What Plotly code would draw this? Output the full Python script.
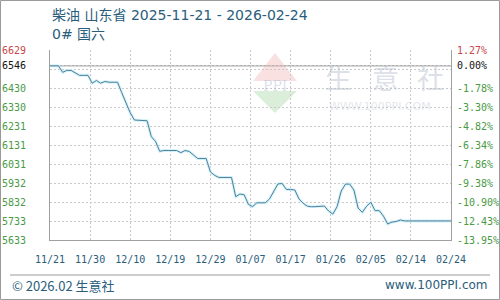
import plotly.graph_objects as go

# ---------------- data ----------------
dates = [
    "2025-11-21", "2025-11-22", "2025-11-23", "2025-11-24", "2025-11-25", "2025-11-26",
    "2025-11-27", "2025-11-28", "2025-11-29", "2025-11-30", "2025-12-01", "2025-12-02",
    "2025-12-03", "2025-12-04", "2025-12-05", "2025-12-06", "2025-12-07", "2025-12-08",
    "2025-12-09", "2025-12-10", "2025-12-11", "2025-12-12", "2025-12-13", "2025-12-14",
    "2025-12-15", "2025-12-16", "2025-12-17", "2025-12-18", "2025-12-19", "2025-12-20",
    "2025-12-21", "2025-12-22", "2025-12-23", "2025-12-24", "2025-12-25", "2025-12-26",
    "2025-12-27", "2025-12-28", "2025-12-29", "2025-12-30", "2025-12-31", "2026-01-01",
    "2026-01-02", "2026-01-03", "2026-01-04", "2026-01-05", "2026-01-06", "2026-01-07",
    "2026-01-08", "2026-01-09", "2026-01-10", "2026-01-11", "2026-01-12", "2026-01-13",
    "2026-01-14", "2026-01-15", "2026-01-16", "2026-01-17", "2026-01-18", "2026-01-19",
    "2026-01-20", "2026-01-21", "2026-01-22", "2026-01-23", "2026-01-24", "2026-01-25",
    "2026-01-26", "2026-01-27", "2026-01-28", "2026-01-29", "2026-01-30", "2026-01-31",
    "2026-02-01", "2026-02-02", "2026-02-03", "2026-02-04", "2026-02-05", "2026-02-06",
    "2026-02-07", "2026-02-08", "2026-02-09", "2026-02-10", "2026-02-11", "2026-02-12",
    "2026-02-13", "2026-02-14", "2026-02-15", "2026-02-16", "2026-02-17", "2026-02-18",
    "2026-02-19", "2026-02-20", "2026-02-21", "2026-02-22", "2026-02-23", "2026-02-24",
]
prices = [
    6546, 6546, 6546, 6512, 6522, 6522,
    6510, 6496, 6496, 6496, 6455, 6469,
    6455, 6464, 6460, 6460, 6460, 6405,
    6354, 6300, 6262, 6260, 6260, 6258,
    6175, 6150, 6098, 6102, 6102, 6102,
    6102, 6091, 6102, 6097, 6078, 6060,
    6060, 6060, 5990, 5972, 5961, 5961,
    5961, 5961, 5860, 5874, 5870, 5820,
    5808, 5828, 5828, 5828, 5848, 5885,
    5927, 5929, 5898, 5898, 5895, 5848,
    5825, 5810, 5807, 5808, 5810, 5811,
    5785, 5769, 5807, 5890, 5926, 5926,
    5895, 5800, 5778, 5810, 5831, 5787,
    5787, 5758, 5717, 5727, 5730, 5738,
    5733, 5733, 5733, 5733, 5733, 5733,
    5733, 5733, 5733, 5733, 5733, 5733,
]

base_price = 6546
y_min, y_max = 5633, 6629

y_tickvals = [5633, 5732.6, 5832.2, 5931.8, 6031.4, 6131, 6230.6, 6330.2, 6429.8, 6529.4, 6546, 6629]
y_left_labels = ["5633", "5733", "5832", "5932", "6031", "6131", "6231", "6330", "6430", "", "6546", "6629"]
y_right_labels = ["-13.95%", "-12.43%", "-10.90%", "-9.38%", "-7.86%", "-6.34%", "-4.82%",
                  "-3.30%", "-1.78%", "", "0.00%", "1.27%"]

x_tickvals = ["2025-11-21", "2025-11-30 12:00", "2025-12-10", "2025-12-19 12:00", "2025-12-29",
              "2026-01-07 12:00", "2026-01-17", "2026-01-26 12:00", "2026-02-05",
              "2026-02-14 12:00", "2026-02-24"]
x_ticklabels = ["11/21", "11/30", "12/10", "12/19", "12/29", "01/07", "01/17", "01/26",
                "02/05", "02/14", "02/24"]

title_line1 = "柴油 山东省 2025-11-21 - 2026-02-24"
title_line2 = "0# 国六"
footer_left = "© 2026.02 生意社"
footer_right = "www.100PPI.com"

# ---------------- styling ----------------
RED = "#c8474a"
GREEN = "#4a9a46"
BLACK = "#111111"
TEAL = "#2a5d7c"
GRID = "#c9c9c9"
AXIS = "#a0a0a0"


def label_color(v):
    if v > base_price:
        return RED
    if v == base_price:
        return BLACK
    return GREEN


left_ticktext = [f'<span style="color:{label_color(v)}">{t}</span>' for v, t in zip(y_tickvals, y_left_labels)]
right_ticktext = [f'<span style="color:{label_color(v)}">{t}</span>' for v, t in zip(y_tickvals, y_right_labels)]

W, H = 500, 300
L, R, T, B = 50, 49, 50, 60
PW, PH = W - L - R, H - T - B


def px(x):
    return (x - L) / PW


def py(y):
    return (H - B - y) / PH


fig = go.Figure()

# halo under the line
fig.add_trace(go.Scatter(x=dates, y=prices, mode="lines",
                         line=dict(color="rgba(195,236,250,0.7)", width=3),
                         hoverinfo="skip", showlegend=False))
fig.add_trace(go.Scatter(x=dates, y=prices, mode="lines",
                         line=dict(color="#4d8099", width=1),
                         hoverinfo="skip", showlegend=False))
# invisible trace for right axis
fig.add_trace(go.Scatter(x=dates, y=prices, mode="lines", yaxis="y2",
                         line=dict(color="rgba(0,0,0,0)", width=0),
                         hoverinfo="skip", showlegend=False))

tick_font = dict(family="DejaVu Sans Mono", size=10)

fig.update_layout(
    width=W, height=H,
    margin=dict(l=L, r=R, t=T, b=B, autoexpand=False),
    paper_bgcolor="white", plot_bgcolor="white",
    showlegend=False,
    xaxis=dict(
        type="date",
        range=[dates[0], dates[-1]],
        tickvals=x_tickvals, ticktext=x_ticklabels,
        tickfont=dict(family="DejaVu Sans Mono", size=10, color=TEAL),
        showgrid=True, gridcolor=GRID, griddash="2px,2px", gridwidth=1,
        showline=True, linecolor=AXIS, linewidth=1,
        ticks="", ticklabelstandoff=10, automargin=False,
        zeroline=False, fixedrange=True,
    ),
    yaxis=dict(
        range=[y_min, y_max],
        tickvals=y_tickvals, ticktext=left_ticktext,
        tickfont=tick_font,
        showgrid=True, gridcolor=GRID, griddash="2px,2px", gridwidth=1,
        showline=True, linecolor=AXIS, linewidth=1,
        ticks="", ticklabelstandoff=21, automargin=False,
        zeroline=False, fixedrange=True,
    ),
    yaxis2=dict(
        range=[y_min, y_max], overlaying="y", side="right",
        tickvals=y_tickvals, ticktext=right_ticktext,
        tickfont=tick_font,
        showgrid=False,
        showline=True, linecolor=AXIS, linewidth=1,
        ticks="", ticklabelstandoff=3, automargin=False,
        zeroline=False, fixedrange=True,
    ),
)

shapes = []
# baseline at base price
shapes.append(dict(type="line", xref="paper", yref="y", x0=0, x1=1, y0=base_price, y1=base_price,
                   line=dict(color="#8a8a8a", width=1), layer="below"))
# outer frame
shapes.append(dict(type="rect", xref="paper", yref="paper", x0=px(0.5), x1=px(W - 0.5),
                   y0=py(H - 0.5), y1=py(0.5), line=dict(color="#9a9a9a", width=1)))
# footer separator
shapes.append(dict(type="line", xref="paper", yref="paper", x0=px(10), x1=px(490),
                   y0=py(275), y1=py(275), line=dict(color="#9a9a9a", width=1)))
# watermark logo (diamond)
shapes.append(dict(type="path", xref="paper", yref="paper", layer="below",
                   path=f"M {px(253)},{py(81)} L {px(275)},{py(53)} L {px(297)},{py(81)} Z",
                   fillcolor="rgba(236,170,165,0.35)", line=dict(width=0)))
shapes.append(dict(type="path", xref="paper", yref="paper", layer="below",
                   path=f"M {px(253)},{py(91)} L {px(275)},{py(113)} L {px(297)},{py(91)} Z",
                   fillcolor="rgba(150,205,150,0.35)", line=dict(width=0)))
fig.update_layout(shapes=shapes)

title_font = dict(family="DejaVu Sans, Noto Sans CJK SC", size=14, color=TEAL)
wm_font = dict(family="Noto Sans CJK SC", size=27, color="rgba(185,193,208,0.5)")

annotations = [
    dict(text=title_line1, x=px(50), y=py(15), xref="paper", yref="paper",
         xanchor="left", yanchor="middle", showarrow=False, font=title_font),
    dict(text=title_line2, x=px(50), y=py(34), xref="paper", yref="paper",
         xanchor="left", yanchor="middle", showarrow=False, font=title_font),
    dict(text=footer_left, x=px(10), y=py(285), xref="paper", yref="paper",
         xanchor="left", yanchor="middle", showarrow=False,
         font=dict(family="Noto Sans CJK SC", size=13, color=TEAL)),
    dict(text=footer_right, x=px(490), y=py(285), xref="paper", yref="paper",
         xanchor="right", yanchor="middle", showarrow=False,
         font=dict(family="DejaVu Sans", size=12, color=TEAL)),
    # watermark text
    dict(text="PPI", x=px(275), y=py(86), xref="paper", yref="paper",
         xanchor="center", yanchor="middle", showarrow=False,
         font=dict(family="DejaVu Serif", size=14, color="rgba(150,165,200,0.35)")),
    dict(text="生", x=px(338), y=py(77), xref="paper", yref="paper",
         xanchor="center", yanchor="middle", showarrow=False, font=wm_font),
    dict(text="意", x=px(385), y=py(77), xref="paper", yref="paper",
         xanchor="center", yanchor="middle", showarrow=False, font=wm_font),
    dict(text="社", x=px(430), y=py(77), xref="paper", yref="paper",
         xanchor="center", yanchor="middle", showarrow=False, font=wm_font),
    dict(text="WWW.100PPI.COM", x=px(380), y=py(106), xref="paper", yref="paper",
         xanchor="center", yanchor="middle", showarrow=False,
         font=dict(family="DejaVu Sans", size=11, color="rgba(190,198,212,0.45)")),
]
fig.update_layout(annotations=annotations)

fig.write_html("out.html", config={"displayModeBar": False, "staticPlot": True})
